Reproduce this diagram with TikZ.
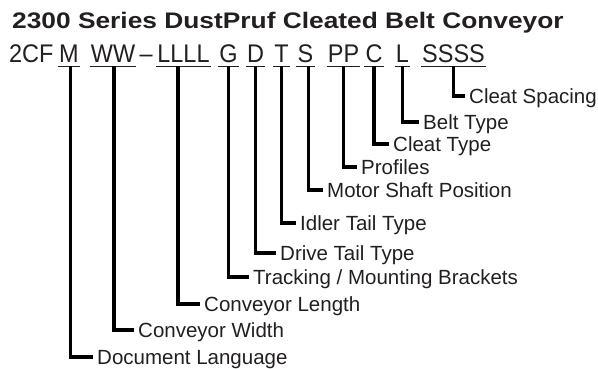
\documentclass[tikz,border=0pt]{standalone}
\usepackage{fontspec}
\setmainfont{Liberation Sans}
\definecolor{ink}{HTML}{231F20}
\newcommand{\narrow}[1]{\scalebox{0.92}[1]{#1}}

\begin{document}
\begin{tikzpicture}[x=1pt,y=-1pt,
  title/.style={font=\fontsize{22.5}{26}\selectfont\bfseries, text=ink, inner sep=0pt, anchor=base west},
  code/.style={font=\fontsize{25.5}{28}\selectfont, text=ink, anchor=base, inner xsep=1pt, inner ysep=3.5pt, text depth=0pt},
  lbl/.style={font=\fontsize{20.5}{24}\selectfont, text=ink, anchor=west, inner xsep=4pt, inner ysep=0pt, text height=14.7pt, text depth=0pt},
  uline/.style={ink, line width=1.3pt},
  leg/.style={black, line width=3.2pt}]
  \useasboundingbox (0,0) rectangle (598,368);

  \node[title] (title) at (12,28.3) {\scalebox{1.17}[1]{2300 Series DustPruf Cleated Belt Conveyor}};

  % model code
  \node[code, anchor=base west, inner xsep=0pt] (prefix) at (9,62.5) {\narrow{2CF}};
  \node[code] (m) at (69,62.5) {\narrow{M}};
  \node[code] (ww) at (113,62.5) {\narrow{WW}};
  \node[code, anchor=base west, inner xsep=0pt] (dash) at (139.5,62.5) {\narrow{–}};
  \node[code] (llll) at (183.5,62.5) {\narrow{LLLL}};
  \node[code] (g) at (228.5,62.5) {\narrow{G}};
  \node[code] (d) at (255.5,62.5) {\narrow{D}};
  \node[code] (t) at (281.5,62.5) {\narrow{T}};
  \node[code] (s) at (305.5,62.5) {\narrow{S}};
  \node[code] (pp) at (343.5,62.5) {\narrow{PP}};
  \node[code] (c) at (374,62.5) {\narrow{C}};
  \node[code] (l) at (402.5,62.5) {\narrow{L}};
  \node[code] (ssss) at (453.5,62.5) {\narrow{SSSS}};

  \foreach \n in {m,ww,llll,g,d,t,s,pp,c,l,ssss}
    \draw[uline] (\n.south west) -- (\n.south east);

  % labels
  \node[lbl] (spacing) at (465,96) {Cleat Spacing};
  \node[lbl] (belt) at (419,122) {Belt Type};
  \node[lbl] (cleat) at (389,144) {Cleat Type};
  \node[lbl] (profiles) at (357,167) {Profiles};
  \node[lbl] (shaft) at (323,190) {Motor Shaft Position};
  \node[lbl] (idler) at (296,223) {Idler Tail Type};
  \node[lbl] (drive) at (276,253) {Drive Tail Type};
  \node[lbl] (tracking) at (249,277) {Tracking / Mounting Brackets};
  \node[lbl] (length) at (200,304) {Conveyor Length};
  \node[lbl] (width) at (134,330) {Conveyor Width};
  \node[lbl] (lang) at (93,357) {Document Language};

  \draw[leg] ([xshift=1.5pt]m.south) |- (lang.west);
  \draw[leg] ([xshift=1pt]ww.south) |- (width.west);
  \draw[leg] ([xshift=-5.5pt]llll.south) |- (length.west);
  \draw[leg] (g.south) |- (tracking.west);
  \draw[leg] (d.south) |- (drive.west);
  \draw[leg] (t.south) |- (idler.west);
  \draw[leg] ([xshift=3pt]s.south) |- (shaft.west);
  \draw[leg] (pp.south) |- (profiles.west);
  \draw[leg] (c.south) |- (cleat.west);
  \draw[leg] (l.south) |- (belt.west);
  \draw[leg] (ssss.south) |- (spacing.west);
\end{tikzpicture}
\end{document}
